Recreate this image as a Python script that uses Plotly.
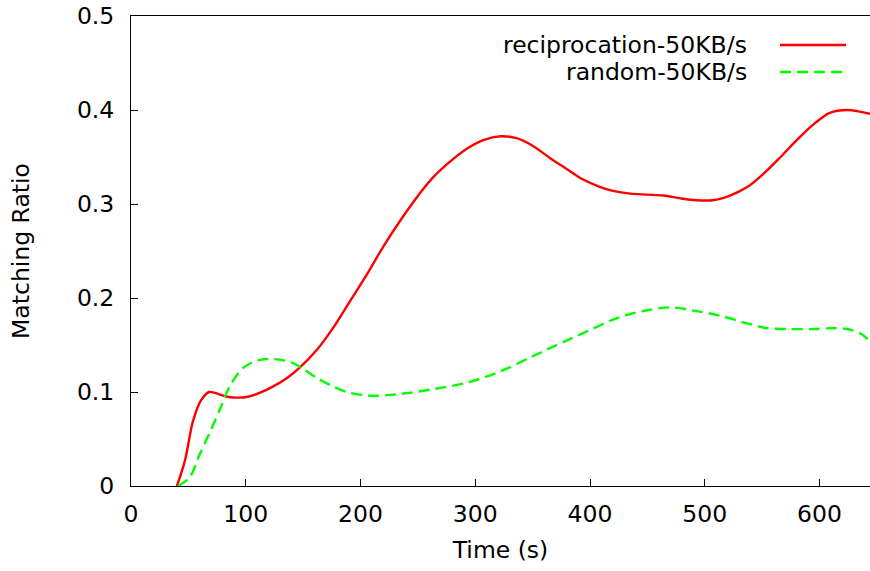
import plotly.graph_objects as go

# Reciprocation strategy at 50KB/s
recip_t = [40, 47, 54, 61, 68, 73, 84, 93, 102, 112, 124, 136, 147, 162, 176, 191,
           206, 220, 235, 249, 263, 278, 293, 307, 322, 336, 350, 365, 380, 394,
           409, 420, 435, 450, 464, 479, 493, 507, 522, 537, 551, 566, 581, 595,
           609, 624, 636, 644]
recip_ratio = [0.000, 0.027, 0.069, 0.091, 0.100, 0.099, 0.095, 0.094, 0.095, 0.099,
               0.106, 0.115, 0.126, 0.145, 0.168, 0.197, 0.226, 0.255, 0.283, 0.307,
               0.328, 0.345, 0.359, 0.368, 0.372, 0.370, 0.362, 0.349, 0.337, 0.326,
               0.318, 0.314, 0.311, 0.310, 0.309, 0.306, 0.304, 0.304, 0.309, 0.318,
               0.332, 0.350, 0.369, 0.385, 0.397, 0.400, 0.398, 0.396]

# Random strategy at 50KB/s
random_t = [41, 51, 60, 69, 78, 86, 98, 112, 124, 139, 147, 162, 176, 191, 211, 235,
            263, 293, 322, 350, 380, 409, 420, 435, 450, 470, 493, 514, 537, 554,
            572, 595, 612, 624, 636, 644]
random_ratio = [0.000, 0.009, 0.034, 0.058, 0.083, 0.106, 0.126, 0.134, 0.135, 0.132,
                0.127, 0.115, 0.106, 0.099, 0.096, 0.098, 0.103, 0.110, 0.122, 0.138,
                0.155, 0.171, 0.177, 0.183, 0.187, 0.190, 0.186, 0.181, 0.173, 0.168,
                0.167, 0.167, 0.168, 0.167, 0.162, 0.154]

x_ticks = [0, 100, 200, 300, 400, 500, 600]
y_ticks = [0, 0.1, 0.2, 0.3, 0.4, 0.5]
y_tick_text = ["0", "0.1", "0.2", "0.3", "0.4", "0.5"]

series_names = ["reciprocation-50KB/s", "random-50KB/s"]
series_colors = ["#ff0000", "#00ff00"]
series_dash = ["solid", "11px,6px"]

FONT = "DejaVu Sans"
FSIZE = 23.5

fig = go.Figure()
fig.add_trace(go.Scatter(x=recip_t, y=recip_ratio, mode="lines", name=series_names[0],
                         line=dict(color=series_colors[0], width=2.4,
                                   shape="spline", smoothing=0.9, dash=series_dash[0])))
fig.add_trace(go.Scatter(x=random_t, y=random_ratio, mode="lines", name=series_names[1],
                         line=dict(color=series_colors[1], width=2.4,
                                   shape="spline", smoothing=0.9, dash=series_dash[1])))

# Key drawn in the upper-right corner: label text followed by a line sample
W, H = 870, 571
L, R, T, B = 131, 0, 16, 85
plot_w = W - L - R
plot_h = H - T - B


def px_x(px):
    return (px - L) / plot_w


def px_y(py):
    return (H - B - py) / plot_h


key_rows = [45, 72]
for name, color, dash, row in zip(series_names, series_colors, series_dash, key_rows):
    fig.add_annotation(x=px_x(749), y=px_y(row), xref="paper", yref="paper",
                       text=name, showarrow=False, xanchor="right", yanchor="middle",
                       font=dict(family=FONT, size=FSIZE, color="black"))
    fig.add_shape(type="line", xref="paper", yref="paper",
                  x0=px_x(780), x1=px_x(846), y0=px_y(row), y1=px_y(row),
                  line=dict(color=color, width=2.4, dash=dash))

fig.update_layout(
    width=W, height=H,
    margin=dict(l=L, r=R, t=T, b=B, pad=0),
    paper_bgcolor="white", plot_bgcolor="white",
    showlegend=False,
    font=dict(family=FONT, size=FSIZE, color="black"),
)
fig.update_xaxes(
    range=[0, 644], tickvals=x_ticks, ticks="inside", ticklen=7, tickcolor="black",
    showline=True, linecolor="black", linewidth=1, mirror=True,
    showgrid=False, zeroline=False, ticklabelstandoff=7,
    title=dict(text="Time (s)", standoff=14, font=dict(family=FONT, size=FSIZE)),
)
fig.update_yaxes(
    range=[0, 0.5], tickvals=y_ticks, ticktext=y_tick_text, ticks="inside", ticklen=7,
    tickcolor="black", showline=True, linecolor="black", linewidth=1,
    showgrid=False, zeroline=False, ticklabelstandoff=11,
    title=dict(text="Matching Ratio", standoff=40, font=dict(family=FONT, size=FSIZE)),
)

fig.write_html("out.html")
